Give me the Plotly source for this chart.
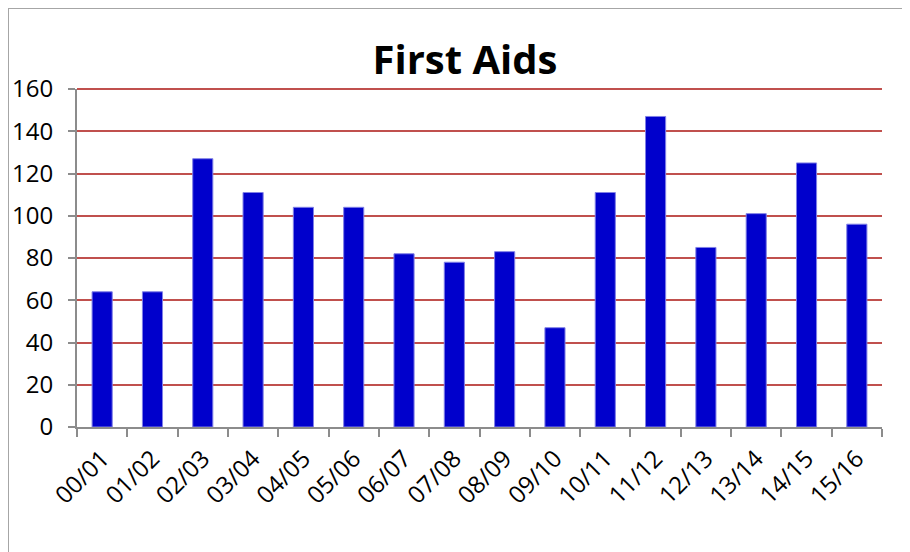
import plotly.graph_objects as go

seasons = ["00/01", "01/02", "02/03", "03/04", "04/05", "05/06", "06/07", "07/08",
           "08/09", "09/10", "10/11", "11/12", "12/13", "13/14", "14/15", "15/16"]
first_aids = [64, 64, 127, 111, 104, 104, 82, 78, 83, 47, 111, 147, 85, 101, 125, 96]
y_ticks = [0, 20, 40, 60, 80, 100, 120, 140, 160]

font_family = "Open Sans, Noto Sans, sans-serif"

# page has an 8px body margin; figure coordinates are offset accordingly
L, T, PW, PH = 69, 81, 805, 338
W, H = 902, 544

fig = go.Figure(go.Bar(
    x=seasons, y=first_aids,
    marker=dict(color="#0000CC", line=dict(color="#8080E6", width=1)),
))

fig.update_layout(
    width=W, height=H,
    margin=dict(l=L, r=W - L - PW, t=T, b=H - T - PH),
    paper_bgcolor="white", plot_bgcolor="white",
    bargap=0.6,
    showlegend=False,
    title=dict(text="<b>First Aids</b>", x=457 / W, xanchor="center",
               y=1 - 52 / H, yanchor="middle",
               font=dict(family=font_family, size=40, color="black")),
    font=dict(family=font_family, color="black"),
    shapes=[
        dict(type="rect", xref="paper", yref="paper",
             x0=(0 - L) / PW, x1=(W + 20 - L) / PW,
             y0=(T + PH - H - 20) / PH, y1=(T + PH) / PH,
             line=dict(color="#A6A6A6", width=2), layer="below"),
        dict(type="line", xref="paper", yref="paper", x0=0, x1=1, y0=1, y1=1,
             line=dict(color="#C0504D", width=2), layer="above"),
    ],
)

fig.update_xaxes(
    type="category", tickson="boundaries", ticks="outside", ticklen=8,
    tickcolor="#8C8C8C", tickwidth=2,
    showline=True, linecolor="#8C8C8C", linewidth=2,
    tickangle=-45, tickfont=dict(size=24, family=font_family, color="black"),
    showgrid=False, automargin=False,
    ticklabelstandoff=6,
)
fig.update_yaxes(
    range=[0, 160], tickvals=y_ticks, ticks="outside", ticklen=7,
    tickcolor="#8C8C8C", tickwidth=2,
    showline=True, linecolor="#8C8C8C", linewidth=2,
    showgrid=True, gridcolor="#C0504D", gridwidth=2,
    zeroline=False, automargin=False,
    tickfont=dict(size=24, family=font_family, color="black"),
    ticklabelstandoff=10,
)

fig.write_html("out.html")
